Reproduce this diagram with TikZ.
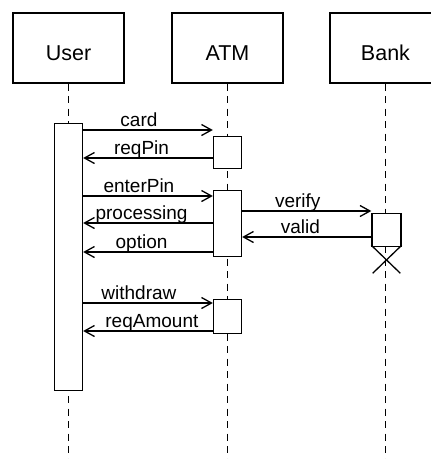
\documentclass[tikz,border=0pt]{standalone}
\usepackage{fontspec}
\setmainfont{Liberation Sans}
\usetikzlibrary{arrows.meta}
\begin{document}
\begin{tikzpicture}[x=1pt,y=-1pt,
  head/.style={draw, fill=white, line width=1.3pt, inner sep=0pt, minimum width=111pt,
    text height=47pt, text depth=23pt, anchor=base,
    font=\fontsize{21.5}{26}\selectfont},
  actbox/.style={draw, fill=white, line width=1.3pt, inner sep=0pt, minimum width=28pt, anchor=north},
  lifeline/.style={line width=1.3pt, dash pattern=on 7pt off 5.5pt},
  msg/.style={line width=1.3pt, -{Straight Barb[length=10pt,width=11pt,line width=1.3pt]}},
  lbl/.style={anchor=base, yshift=4pt, inner sep=0pt, font=\fontsize{19}{23}\selectfont},
  xmark/.style={line width=1.3pt}
]
\useasboundingbox (0,0) rectangle (431,459);

% header boxes
\node[head] (user) at (68.5,60) {User};
\node[head] (atm) at (227.5,60) {ATM};
\node[head] (bank) at (385.5,60) {Bank};

% lifeline ends
\coordinate (bot) at (0,460);
\draw[lifeline] (user.south) -- (user.south |- bot);
\draw[lifeline] (atm.south) -- (atm.south |- bot);
\draw[lifeline] (bank.south) -- (bank.south |- bot);

% activation boxes
\node[actbox, minimum height=267pt] (ua) at (68.5,123) {};
\node[actbox, minimum height=32pt] (a1) at (227.5,136) {};
\node[actbox, minimum height=66pt] (a2) at (227.5,190) {};
\node[actbox, minimum height=34pt] (a3) at (227.5,299) {};
\node[actbox, minimum width=29pt, minimum height=33pt] (b1) at (386.5,213) {};

% message levels
\coordinate (m1) at (0,130);
\coordinate (m2) at (0,158);
\coordinate (m3) at (0,196);
\coordinate (m4) at (0,223);
\coordinate (m5) at (0,252);
\coordinate (m6) at (0,211);
\coordinate (m7) at (0,237);
\coordinate (m8) at (0,303);
\coordinate (m9) at (0,331);

\draw[msg] (ua.east |- m1) -- node[lbl, pos=.43] {card} (a1.west |- m1);
\draw[msg] (a1.west |- m2) -- node[lbl, pos=.55] {reqPin} (ua.east |- m2);
\draw[msg] (ua.east |- m3) -- node[lbl, pos=.43] {enterPin} (a2.west |- m3);
\draw[msg] (a2.west |- m4) -- node[lbl, pos=.55] {processing} (ua.east |- m4);
\draw[msg] (a2.west |- m5) -- node[lbl, pos=.55] {option} (ua.east |- m5);
\draw[msg] (a2.east |- m6) -- node[lbl, pos=.43] {verify} (b1.west |- m6);
\draw[msg] (b1.west |- m7) -- node[lbl, pos=.55] {valid} (a2.east |- m7);
\draw[msg] (ua.east |- m8) -- node[lbl, pos=.43] {withdraw} (a3.west |- m8);
\draw[msg] (a3.west |- m9) -- node[lbl, pos=.47] {reqAmount} (ua.east |- m9);

% destruction mark
\draw[xmark] ([yshift=2pt]b1.south west) -- ++(29,28);
\draw[xmark] ([yshift=2pt]b1.south east) -- ++(-29,28);
\end{tikzpicture}
\end{document}
